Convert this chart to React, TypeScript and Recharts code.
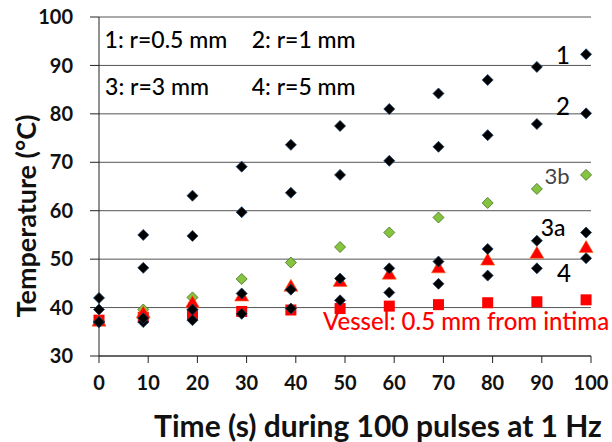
import React from "react";
import {
  ScatterChart,
  Scatter,
  XAxis,
  YAxis,
  CartesianGrid,
  ReferenceDot,
  Label,
} from "recharts";

// time in seconds, points were recorded just before each tick
const times = [0, 9, 19, 29, 39, 49, 59, 69, 79, 89, 99];
const r05 = [42.0, 55.0, 63.1, 69.1, 73.6, 77.5, 81.0, 84.2, 87.0, 89.7, 92.3];
const r1 = [39.6, 48.2, 54.8, 59.7, 63.7, 67.4, 70.3, 73.2, 75.6, 77.9, 80.1];
const r3b = [37.2, 39.6, 42.1, 45.9, 49.3, 52.5, 55.5, 58.6, 61.6, 64.5, 67.4];
const r3a = [37.0, 37.8, 39.6, 42.9, 43.7, 46.0, 48.1, 49.5, 52.1, 53.8, 55.5];
const r5 = [37.0, 37.0, 37.4, 38.7, 39.8, 41.5, 43.1, 44.9, 46.6, 48.1, 50.2];
const vesselTri = [37.2, 38.9, 41.0, 42.4, 44.4, 45.4, 46.9, 48.2, 49.8, 51.2, 52.4];
const vesselSq = [37.4, 38.0, 38.5, 39.2, 39.5, 39.8, 40.3, 40.6, 41.0, 41.2, 41.6];

const xTicks = [0, 10, 20, 30, 40, 50, 60, 70, 80, 90, 100];
const yTicks = [30, 40, 50, 60, 70, 80, 90, 100];

const toPoints = (vals: number[]) =>
  times.map((t, i) => ({ time: t, temp: vals[i] }));

const FONT = "Lato, 'Open Sans', sans-serif";

const diamond = (fill: string, stroke: string, h: number) => (p: any) =>
  (
    <polygon
      points={`${p.cx},${p.cy - h} ${p.cx + h},${p.cy} ${p.cx},${p.cy + h} ${p.cx - h},${p.cy}`}
      fill={fill}
      stroke={stroke}
      strokeWidth={0.8}
    />
  );

const triangle = (p: any) => (
  <polygon
    points={`${p.cx},${p.cy - 7} ${p.cx + 7},${p.cy + 5} ${p.cx - 7},${p.cy + 5}`}
    fill="#ff0000"
    stroke="#f36a1c"
    strokeWidth={0.6}
  />
);

const square = (p: any) => (
  <rect x={p.cx - 5.5} y={p.cy - 5.5} width={11} height={11} fill="#ff0000" />
);

const note = (
  text: string,
  color = "#000",
  size = 23,
  weight: number | string = 500
) => (props: any) => {
  const vb = props.viewBox || {};
  return (
    <text
      x={vb.x + (vb.width || 0) / 2}
      y={vb.y + (vb.height || 0) / 2}
      textAnchor="middle"
      dominantBaseline="central"
      fill={color}
      fontSize={size}
      fontWeight={weight}
      fontFamily={FONT}
    >
      {text}
    </text>
  );
};

const annotations = [
  { x: 13.6, y: 95.5, text: "1: r=0.5 mm" },
  { x: 41.6, y: 95.5, text: "2: r=1 mm" },
  { x: 11.8, y: 85.8, text: "3: r=3 mm" },
  { x: 41.6, y: 85.8, text: "4: r=5 mm" },
  { x: 94.3, y: 92.2, text: "1", size: 24 },
  { x: 94.3, y: 81.8, text: "2", size: 24 },
  { x: 93.1, y: 67.2, text: "3b", color: "#444", weight: 400, size: 22 },
  { x: 92.3, y: 56.6, text: "3a", size: 23 },
  { x: 94.5, y: 47.3, text: "4", size: 24 },
  { x: 74.6, y: 37.4, text: "Vessel: 0.5 mm from intima", color: "#ff0000", size: 24 },
];

export default function App() {
  return (
    <div style={{ position: "absolute", left: 0, top: 0, background: "#fff" }}>
      <ScatterChart
        width={612}
        height={442}
        margin={{ top: 17, right: 21, left: 0, bottom: 0 }}
      >
        <CartesianGrid vertical={false} stroke="#555" strokeWidth={1} />
        <XAxis
          type="number"
          dataKey="time"
          domain={[0, 100]}
          ticks={xTicks}
          height={86}
          tickSize={7}
          tickMargin={13}
          stroke="#222"
          tick={{ fill: "#111", fontSize: 20, fontWeight: 700, fontFamily: FONT }}
        >
          <Label
            content={(props: any) => {
              const vb = props.viewBox;
              return (
                <text
                  x={vb.x + vb.width / 2 + 33}
                  y={425}
                  textAnchor="middle"
                  dominantBaseline="central"
                  fontSize={30}
                  fontWeight={700}
                  fontFamily={FONT}
                  fill="#111"
                >
                  Time (s) during 100 pulses at 1 Hz
                </text>
              );
            }}
          />
        </XAxis>
        <YAxis
          type="number"
          dataKey="temp"
          domain={[30, 100]}
          ticks={yTicks}
          width={99}
          tickSize={9}
          tickMargin={17}
          stroke="#222"
          tick={{ fill: "#111", fontSize: 20, fontWeight: 700, fontFamily: FONT }}
        >
          <Label
            content={() => (
              <text
                x={25}
                y={216}
                transform="rotate(-90 25 216)"
                textAnchor="middle"
                dominantBaseline="central"
                fontSize={27}
                fontWeight={700}
                fontFamily={FONT}
                fill="#111"
              >
                Temperature (°C)
              </text>
            )}
          />
        </YAxis>
        <Scatter
          data={toPoints(r3b)}
          shape={diamond("#86c440", "#3f6f1f", 5.5)}
          isAnimationActive={false}
        />
        <Scatter data={toPoints(vesselSq)} shape={square} isAnimationActive={false} />
        <Scatter data={toPoints(vesselTri)} shape={triangle} isAnimationActive={false} />
        <Scatter
          data={toPoints(r5)}
          shape={diamond("#000", "#1c3f66", 5.5)}
          isAnimationActive={false}
        />
        <Scatter
          data={toPoints(r3a)}
          shape={diamond("#000", "#1c3f66", 5.5)}
          isAnimationActive={false}
        />
        <Scatter
          data={toPoints(r1)}
          shape={diamond("#000", "#1c3f66", 5.5)}
          isAnimationActive={false}
        />
        <Scatter
          data={toPoints(r05)}
          shape={diamond("#000", "#1c3f66", 5.5)}
          isAnimationActive={false}
        />
        {annotations.map((a) => (
          <ReferenceDot
            key={a.text}
            x={a.x}
            y={a.y}
            r={0}
            fill="none"
            stroke="none"
            label={note(a.text, a.color, a.size, a.weight)}
          />
        ))}
      </ScatterChart>
    </div>
  );
}
